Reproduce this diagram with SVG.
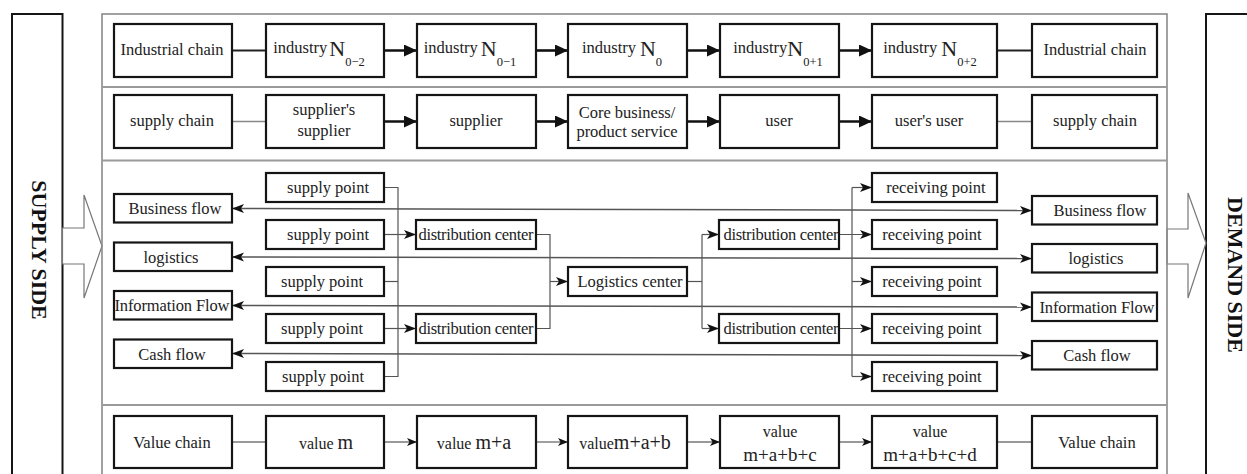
<svg xmlns="http://www.w3.org/2000/svg" width="1247" height="474" viewBox="0 0 1247 474">
<style>
text{font-family:"Liberation Serif","Times New Roman",serif;fill:#222;font-size:16.5px;text-anchor:middle}
text.v15{font-size:16px}
text.v19{font-size:19px}
.box{fill:#fff;stroke:#151515;stroke-width:2.2}
.side{fill:none;stroke:#151515;stroke-width:2}
.frame{fill:none;stroke:#8a8a8a;stroke-width:1.6}
.sep{stroke:#9a9a9a;stroke-width:1.8;fill:none}
.big{stroke:#111;stroke-width:2.6;fill:none}
.plain{stroke:#222;stroke-width:1.8;fill:none}
.plaing{stroke:#888;stroke-width:1.6;fill:none}
.thin{stroke:#555;stroke-width:1.2;fill:none}
.flow{stroke:#555;stroke-width:1.5;fill:none}
.val{stroke:#777;stroke-width:1.4;fill:none}
.hollow{fill:#fff;stroke:#777;stroke-width:1.2}
text.sidet{font-weight:bold;font-size:22px;fill:#111}
</style>
<defs>
<marker id="ab" markerUnits="userSpaceOnUse" markerWidth="14" markerHeight="13" refX="13" refY="6" orient="auto"><path d="M0,0 L13,6 L0,12 z" fill="#111"/></marker>
<marker id="am" markerUnits="userSpaceOnUse" markerWidth="13" markerHeight="10" refX="12" refY="4.5" orient="auto-start-reverse"><path d="M0,0 L12,4.5 L0,9 L3,4.5 z" fill="#111"/></marker>
<marker id="as" markerUnits="userSpaceOnUse" markerWidth="11" markerHeight="9" refX="10" refY="4" orient="auto"><path d="M0,0 L10,4 L0,8 L2.5,4 z" fill="#111"/></marker>
</defs>

<!-- side panels -->
<g id="supply-side">
<rect class="side" x="12" y="14" width="50.5" height="470"/>
<text class="sidet" transform="translate(32,250) rotate(90)">SUPPLY SIDE</text>
</g>
<g id="demand-side">
<rect class="side" x="1206" y="14" width="60" height="470"/>
<text class="sidet" transform="translate(1228,275) rotate(90)">DEMAND SIDE</text>
</g>
<g id="supply-arrow"><polygon class="hollow" points="62.5,228 84,228 84,195 102,246 84,298 84,264 62.5,264"/></g>
<g id="demand-arrow"><polygon class="hollow" points="1167,229 1188,229 1188,193 1206,243 1188,298 1188,264 1167,264"/></g>

<!-- frame -->
<g id="frame">
<rect class="frame" x="102" y="14" width="1065" height="470"/>
<line class="sep" x1="102" y1="87" x2="1167" y2="87"/>
<line class="sep" x1="102" y1="160.5" x2="1167" y2="160.5"/>
<line class="sep" x1="102" y1="405" x2="1167" y2="405"/>
</g>

<!-- connectors -->
<g id="connectors">
<!-- row 1 -->
<line class="plain" x1="232" y1="50.5" x2="266" y2="50.5"/>
<line class="big" x1="384" y1="50.5" x2="417" y2="50.5" marker-end="url(#ab)"/>
<line class="big" x1="536" y1="50.5" x2="568" y2="50.5" marker-end="url(#ab)"/>
<line class="big" x1="687" y1="50.5" x2="720" y2="50.5" marker-end="url(#ab)"/>
<line class="big" x1="839" y1="50.5" x2="872" y2="50.5" marker-end="url(#ab)"/>
<line class="plain" x1="997" y1="50.5" x2="1032" y2="50.5"/>
<!-- row 2 -->
<line class="plaing" x1="232" y1="121.5" x2="266" y2="121.5"/>
<line class="big" x1="384" y1="121.5" x2="417" y2="121.5" marker-end="url(#ab)"/>
<line class="big" x1="536" y1="121.5" x2="568" y2="121.5" marker-end="url(#ab)"/>
<line class="big" x1="687" y1="121.5" x2="720" y2="121.5" marker-end="url(#ab)"/>
<line class="big" x1="839" y1="121.5" x2="872" y2="121.5" marker-end="url(#ab)"/>
<line class="plaing" x1="997" y1="121.5" x2="1032" y2="121.5"/>
<!-- flows -->
<line class="flow" x1="232" y1="208.5" x2="1032" y2="210.5" marker-start="url(#am)" marker-end="url(#am)"/>
<line class="flow" x1="232" y1="257" x2="1032" y2="258.5" marker-start="url(#am)" marker-end="url(#am)"/>
<line class="flow" x1="232" y1="305.5" x2="1032" y2="307" marker-start="url(#am)" marker-end="url(#am)"/>
<line class="flow" x1="232" y1="353.5" x2="1032" y2="355.5" marker-start="url(#am)" marker-end="url(#am)"/>
<!-- supply side tree -->
<polyline class="thin" points="384,187.5 398,187.5 398,376.5 384,376.5"/>
<line class="thin" x1="384" y1="281.5" x2="398" y2="281.5"/>
<line class="thin" x1="384" y1="234.5" x2="416" y2="234.5" marker-end="url(#am)"/>
<line class="thin" x1="384" y1="328.5" x2="416" y2="328.5" marker-end="url(#am)"/>
<polyline class="thin" points="536,234.5 550,234.5 550,328.5 536,328.5"/>
<line class="thin" x1="550" y1="281.5" x2="568" y2="281.5" marker-end="url(#am)"/>
<line class="thin" x1="687" y1="281.5" x2="702" y2="281.5"/>
<line class="thin" x1="702" y1="234.5" x2="702" y2="328.5"/>
<line class="thin" x1="702" y1="234.5" x2="719" y2="234.5" marker-end="url(#am)"/>
<line class="thin" x1="702" y1="328.5" x2="719" y2="328.5" marker-end="url(#am)"/>
<line class="thin" x1="839" y1="234.5" x2="872" y2="234.5" marker-end="url(#am)"/>
<line class="thin" x1="839" y1="328.5" x2="872" y2="328.5" marker-end="url(#am)"/>
<line class="thin" x1="852" y1="187.5" x2="852" y2="376.5"/>
<line class="thin" x1="852" y1="187.5" x2="872" y2="187.5" marker-end="url(#am)"/>
<line class="thin" x1="852" y1="281.5" x2="872" y2="281.5" marker-end="url(#am)"/>
<line class="thin" x1="852" y1="376.5" x2="872" y2="376.5" marker-end="url(#am)"/>
<!-- value row -->
<line class="val" x1="232" y1="442" x2="266" y2="442"/>
<line class="val" x1="384" y1="442" x2="417" y2="442" marker-end="url(#as)"/>
<line class="val" x1="536" y1="442" x2="568" y2="442" marker-end="url(#as)"/>
<line class="val" x1="687" y1="442" x2="720" y2="442" marker-end="url(#as)"/>
<line class="val" x1="839" y1="442" x2="872" y2="442" marker-end="url(#as)"/>
<line class="val" x1="997" y1="442" x2="1032" y2="442"/>
</g>

<!-- row 1: industrial chain -->
<g id="ic-left"><rect class="box" x="114" y="24" width="118" height="53"/><text x="172" y="55">Industrial chain</text></g>
<g id="ind-n02"><rect class="box" x="266" y="24" width="118" height="53"/><text x="319" y="53">industry<tspan font-size="22" dx="2" dy="3">N</tspan><tspan font-size="12.5" dy="10">0−2</tspan></text></g>
<g id="ind-n01"><rect class="box" x="417" y="24" width="119" height="53"/><text x="470" y="53">industry<tspan font-size="22" dx="3" dy="3">N</tspan><tspan font-size="12.5" dy="10">0−1</tspan></text></g>
<g id="ind-n0"><rect class="box" x="568" y="24" width="119" height="53"/><text x="622" y="53">industry<tspan font-size="22" dx="4" dy="3">N</tspan><tspan font-size="12.5" dy="10">0</tspan></text></g>
<g id="ind-n01p"><rect class="box" x="720" y="24" width="119" height="53"/><text x="778" y="53">industry<tspan font-size="22" dy="3">N</tspan><tspan font-size="12.5" dy="10">0+1</tspan></text></g>
<g id="ind-n02p"><rect class="box" x="872" y="24" width="125" height="53"/><text x="930" y="53">industry<tspan font-size="22" dx="4" dy="3">N</tspan><tspan font-size="12.5" dy="10">0+2</tspan></text></g>
<g id="ic-right"><rect class="box" x="1032" y="24" width="125" height="53"/><text x="1095" y="55">Industrial chain</text></g>

<!-- row 2: supply chain -->
<g id="sc-left"><rect class="box" x="114" y="95" width="118" height="53"/><text x="172" y="126">supply chain</text></g>
<g id="sup-sup"><rect class="box" x="266" y="95" width="118" height="53"/><text x="324" y="115">supplier's</text><text x="324" y="136">supplier</text></g>
<g id="supplier"><rect class="box" x="417" y="95" width="119" height="53"/><text x="476" y="126">supplier</text></g>
<g id="core"><rect class="box" x="568" y="95" width="119" height="53"/><text x="627" y="118">Core business/</text><text x="627" y="137">product service</text></g>
<g id="user"><rect class="box" x="720" y="95" width="119" height="53"/><text x="779" y="126">user</text></g>
<g id="users-user"><rect class="box" x="872" y="95" width="125" height="53"/><text x="929" y="126">user's user</text></g>
<g id="sc-right"><rect class="box" x="1032" y="95" width="125" height="53"/><text x="1095" y="126">supply chain</text></g>

<!-- middle: left flows -->
<g id="bf-left"><rect class="box" x="114" y="194" width="118" height="28.5"/><text x="175" y="214">Business flow</text></g>
<g id="lg-left"><rect class="box" x="114" y="242.5" width="118" height="28.5"/><text x="171" y="262.5">logistics</text></g>
<g id="if-left"><rect class="box" x="114" y="291" width="118" height="28.5"/><text x="172" y="311" textLength="115">Information Flow</text></g>
<g id="cf-left"><rect class="box" x="114" y="339.5" width="118" height="28.5"/><text x="172" y="359.5">Cash flow</text></g>

<!-- supply points -->
<g id="sp1"><rect class="box" x="266" y="173" width="118" height="29"/><text x="328" y="193">supply point</text></g>
<g id="sp2"><rect class="box" x="266" y="220" width="118" height="29"/><text x="328" y="240">supply point</text></g>
<g id="sp3"><rect class="box" x="266" y="267" width="118" height="29"/><text x="322" y="287">supply point</text></g>
<g id="sp4"><rect class="box" x="266" y="314" width="118" height="29"/><text x="322" y="334">supply point</text></g>
<g id="sp5"><rect class="box" x="266" y="362" width="118" height="29"/><text x="323" y="382">supply point</text></g>

<!-- distribution / logistics centers -->
<g id="dc-l1"><rect class="box" x="416" y="220" width="120" height="29"/><text x="476" y="240" textLength="115">distribution center</text></g>
<g id="dc-l2"><rect class="box" x="416" y="314" width="120" height="29"/><text x="476" y="334" textLength="115">distribution center</text></g>
<g id="lc"><rect class="box" x="568" y="267" width="119" height="29"/><text x="630" y="287">Logistics center</text></g>
<g id="dc-r1"><rect class="box" x="719" y="220" width="120" height="29"/><text x="781" y="240" textLength="115">distribution center</text></g>
<g id="dc-r2"><rect class="box" x="719" y="314" width="120" height="29"/><text x="781" y="334" textLength="115">distribution center</text></g>

<!-- receiving points -->
<g id="rp1"><rect class="box" x="872" y="173" width="125" height="29"/><text x="936" y="193">receiving point</text></g>
<g id="rp2"><rect class="box" x="872" y="220" width="125" height="29"/><text x="932" y="240">receiving point</text></g>
<g id="rp3"><rect class="box" x="872" y="267" width="125" height="29"/><text x="932" y="287">receiving point</text></g>
<g id="rp4"><rect class="box" x="872" y="314" width="125" height="29"/><text x="932" y="334">receiving point</text></g>
<g id="rp5"><rect class="box" x="872" y="362" width="125" height="29"/><text x="932" y="382">receiving point</text></g>

<!-- right flows -->
<g id="bf-right"><rect class="box" x="1032" y="196" width="125" height="28.5"/><text x="1100" y="216">Business flow</text></g>
<g id="lg-right"><rect class="box" x="1032" y="244" width="125" height="28.5"/><text x="1096" y="264">logistics</text></g>
<g id="if-right"><rect class="box" x="1032" y="292.5" width="125" height="28.5"/><text x="1097" y="312.5" textLength="115">Information Flow</text></g>
<g id="cf-right"><rect class="box" x="1032" y="341" width="125" height="28.5"/><text x="1097" y="361">Cash flow</text></g>

<!-- value row -->
<g id="vc-left"><rect class="box" x="114" y="416" width="118" height="52"/><text x="172" y="448">Value chain</text></g>
<g id="v-m"><rect class="box" x="266" y="416" width="118" height="52"/><text class="v15" x="326" y="449">value <tspan font-size="20">m</tspan></text></g>
<g id="v-ma"><rect class="box" x="417" y="416" width="119" height="52"/><text class="v15" x="474" y="449">value <tspan font-size="20">m+a</tspan></text></g>
<g id="v-mab"><rect class="box" x="568" y="416" width="119" height="52"/><text class="v15" x="625" y="449">value<tspan font-size="20">m+a+b</tspan></text></g>
<g id="v-mabc"><rect class="box" x="720" y="416" width="119" height="52"/><text class="v15" x="780" y="437">value</text><text class="v19" x="780" y="461">m+a+b+c</text></g>
<g id="v-mabcd"><rect class="box" x="872" y="416" width="125" height="52"/><text class="v15" x="930" y="437">value</text><text class="v19" x="930" y="461">m+a+b+c+d</text></g>
<g id="vc-right"><rect class="box" x="1032" y="416" width="125" height="52"/><text x="1097" y="448">Value chain</text></g>
</svg>
